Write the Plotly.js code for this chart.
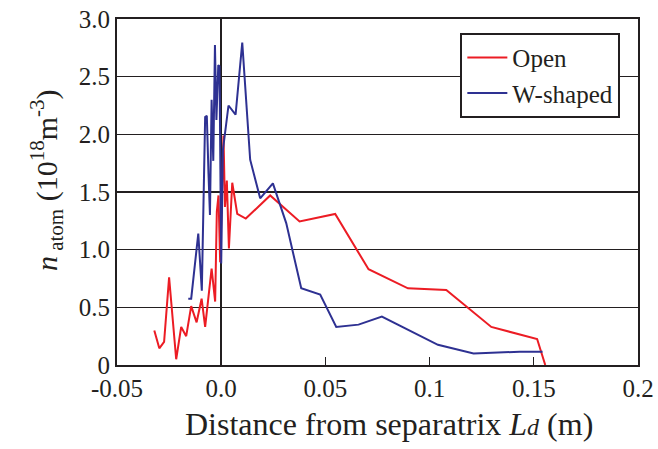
<!DOCTYPE html>
<html>
<head>
<meta charset="utf-8">
<script src="https://cdn.plot.ly/plotly-3.0.1.min.js"></script>
<style>html,body{margin:0;padding:0;background:#fff;}#chart{width:658px;height:449px;}</style>
</head>
<body>
<div id="chart"></div>
<script>
const openX = [-0.0321, -0.0297, -0.0274, -0.0250, -0.0216, -0.0192, -0.0168, -0.0144, -0.0118, -0.0094, -0.0077, -0.0046, -0.0029, -0.0021, -0.0013, -0.0005, 0.0011, 0.0018, 0.0027, 0.0037, 0.0053, 0.0077, 0.0118, 0.0235, 0.0376, 0.0547, 0.0707, 0.0896, 0.1080, 0.1296, 0.1516, 0.1555];
const openY = [0.30, 0.145, 0.20, 0.76, 0.05, 0.33, 0.25, 0.51, 0.37, 0.575, 0.33, 0.835, 0.55, 1.33, 1.47, 0.89, 1.99, 1.37, 1.60, 1.01, 1.58, 1.31, 1.27, 1.47, 1.245, 1.31, 0.83, 0.665, 0.65, 0.33, 0.225, 0.0];
const wX = [-0.0158, -0.0144, -0.0110, -0.0093, -0.0077, -0.0069, -0.0061, -0.0054, -0.0046, -0.0038, -0.0030, -0.0023, -0.0014, -0.0008, -0.0004, 0.0000, 0.0008, 0.0035, 0.0069, 0.0101, 0.0139, 0.0187, 0.0248, 0.0312, 0.0384, 0.0475, 0.0552, 0.0659, 0.0771, 0.0899, 0.1040, 0.1211, 0.1432, 0.1542];
const wY = [0.575, 0.575, 1.14, 0.645, 2.15, 2.16, 1.66, 1.30, 2.30, 1.77, 2.775, 2.125, 2.60, 2.59, 1.70, 0.88, 1.86, 2.25, 2.17, 2.795, 1.78, 1.445, 1.575, 1.23, 0.665, 0.61, 0.33, 0.35, 0.42, 0.30, 0.175, 0.10, 0.115, 0.115];
const xTickVals = [-0.05, 0, 0.05, 0.1, 0.15, 0.2];
const xTickText = ['-0.05', '0.0', '0.05', '0.1', '0.15', '0.2'];
const yTickVals = [0, 0.5, 1, 1.5, 2, 2.5, 3];
const yTickText = ['0', '0.5', '1.0', '1.5', '2.0', '2.5', '3.0'];
const seriesNames = ['Open', 'W-shaped'];
const xTitle = 'Distance from separatrix <i>L<span style="font-size:24px">d</span></i> (m)';
const yTitle = '<i>n</i><sub> atom</sub> (10<sup>18</sup>m<sup>-3</sup>)';

const font = "'Liberation Serif', 'DejaVu Serif', serif";
const ink = '#231f20';
const traces = [
  {x: openX, y: openY, name: seriesNames[0], type: 'scatter', mode: 'lines', line: {color: '#ec1c24', width: 2}},
  {x: wX, y: wY, name: seriesNames[1], type: 'scatter', mode: 'lines', line: {color: '#2e3192', width: 2}}
];
const layout = {
  width: 658, height: 449,
  margin: {l: 117, r: 20, t: 19, b: 84},
  paper_bgcolor: '#fff', plot_bgcolor: '#fff',
  font: {family: font, color: ink, size: 25},
  showlegend: true,
  legend: {x: 0.659, y: 0.96, xanchor: 'left', yanchor: 'top', bgcolor: '#fff', bordercolor: ink, borderwidth: 2,
    font: {family: font, size: 25, color: ink}, tracegroupgap: 0, itemwidth: 40},
  xaxis: {
    range: [-0.05, 0.2], tickvals: xTickVals, ticktext: xTickText,
    showgrid: false, zeroline: true, zerolinecolor: ink, zerolinewidth: 2.5,
    showline: true, linecolor: ink, linewidth: 2, mirror: true,
    ticks: 'inside', ticklen: 8, tickwidth: 1, tickcolor: ink,
    tickfont: {family: font, size: 25, color: ink}
  },
  yaxis: {
    range: [0, 3], tickvals: yTickVals, ticktext: yTickText,
    showgrid: true, gridcolor: ink, gridwidth: 1.3,
    zeroline: false,
    showline: true, linecolor: ink, linewidth: 2, mirror: true,
    ticks: '', tickfont: {family: font, size: 25, color: ink}
  },
  annotations: [
    {text: xTitle, xref: 'paper', yref: 'paper', x: 0.523, y: -0.171, xanchor: 'center', yanchor: 'middle',
     showarrow: false, font: {family: font, size: 32, color: ink}},
    {text: yTitle, xref: 'paper', yref: 'paper', x: -0.134, y: 0.535, xanchor: 'center', yanchor: 'middle',
     textangle: -90, showarrow: false, font: {family: font, size: 30, color: ink}}
  ]
};
Plotly.newPlot('chart', traces, layout, {displayModeBar: false, staticPlot: true});
</script>
</body>
</html>
